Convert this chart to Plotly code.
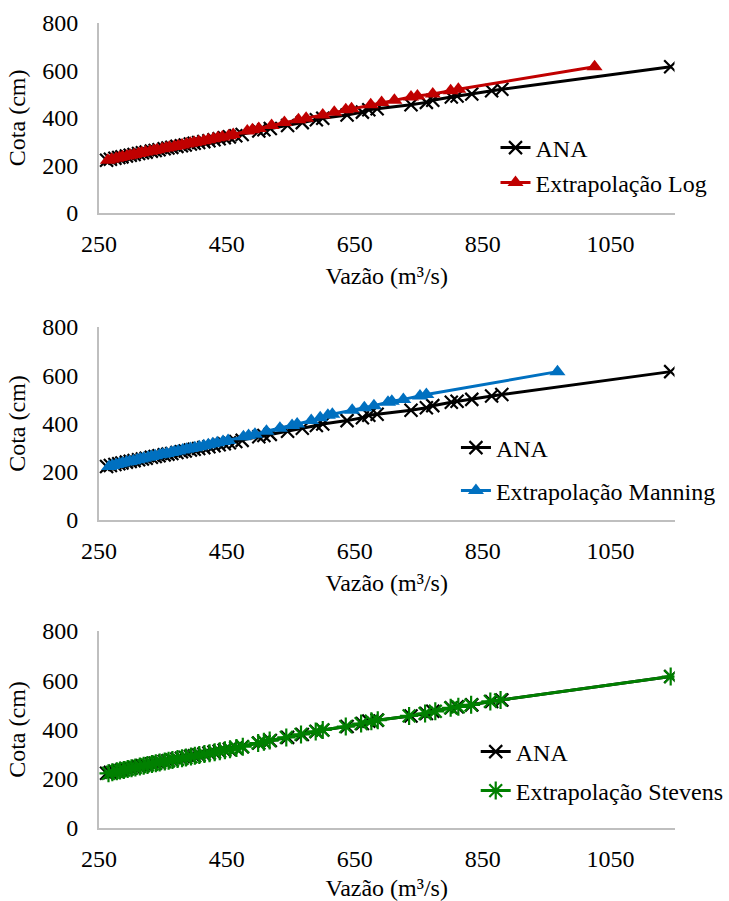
import plotly.graph_objects as go

# Cota (cm) levels shared by all series
cota = [222, 226, 230, 233, 236, 240, 243, 246, 250, 253, 256, 260, 263, 266, 270,
        273, 276, 280, 283, 286, 290, 293, 296, 300, 304, 308, 312, 316, 320, 325,
        330, 345, 350, 355, 368, 380, 392, 398, 412, 424, 434, 438, 455, 465, 474,
        488, 492, 500, 514, 520, 615]

# Vazão (m³/s)
q_ana = [262, 268, 275, 281, 286, 293, 299, 305, 312, 318, 324, 332, 338, 344, 352,
         358, 364, 372, 379, 385, 393, 399, 406, 414, 422, 430, 438, 446, 454, 464,
         474, 500, 508, 518, 545, 568, 590, 600, 638, 662, 672, 685, 738, 762, 772,
         801, 810, 833, 864, 880, 1144]

q_log = [264, 270, 277, 282, 287, 294, 299, 305, 312, 317, 323, 330, 336, 341, 349,
         355, 360, 368, 374, 380, 387, 393, 399, 406, 414, 421, 429, 436, 443, 453,
         460, 482, 490, 500, 520, 540, 562, 574, 600, 618, 636, 645, 675, 692, 712,
         738, 748, 772, 800, 812, 1025]

q_manning = [266, 271, 277, 282, 287, 293, 298, 304, 310, 315, 320, 327, 332, 338, 345,
             350, 356, 363, 368, 374, 381, 387, 393, 400, 407, 414, 421, 428, 435, 444,
             452, 476, 484, 494, 512, 533, 552, 560, 582, 596, 608, 615, 646, 665, 680,
             702, 708, 726, 752, 762, 967]

q_stevens = [265, 271, 278, 283, 289, 295, 301, 307, 314, 320, 326, 333, 339, 345, 353,
             359, 365, 373, 380, 386, 394, 400, 407, 415, 423, 431, 439, 447, 455, 465,
             475, 499, 508, 517, 543, 566, 589, 600, 636, 660, 676, 686, 735, 760, 776,
             800, 812, 832, 862, 878, 1144]

x_ticks = [250, 450, 650, 850, 1050]
y_ticks = [0, 200, 400, 600, 800]

FONT = "Liberation Serif, Times New Roman, serif"
FS = 24
W, H = 729, 901

fig = go.Figure()

domains_y = [
    (1 - 213 / H, 1 - 22.7 / H),
    (1 - 520 / H, 1 - 327 / H),
    (1 - 828 / H, 1 - 631 / H),
]
xdom = [100 / W, 682 / W]

series = [
    ("Extrapolação Log", q_log, "#C00000", "triangle-up", 14),
    ("Extrapolação Manning", q_manning, "#0070C0", "triangle-up", 14),
    ("Extrapolação Stevens", q_stevens, "#008000", "asterisk-open", 15),
]

legend_pos = [
    ((543 - 42) / W, 1 - 148 / H, 1 - 183 / H),
    ((503 - 42) / W, 1 - 448 / H, 1 - 491 / H),
    ((523 - 42) / W, 1 - 752 / H, 1 - 791 / H),
]

for i, (name, qs, color, sym, msize) in enumerate(series):
    ax = "" if i == 0 else str(i + 1)
    leg_a = "legend" if i == 0 else f"legend{2 * i + 1}"
    leg_b = f"legend{2 * i + 2}"
    fig.add_trace(go.Scatter(
        x=q_ana, y=cota, name="ANA", mode="lines+markers",
        line=dict(color="black", width=3),
        marker=dict(symbol="x-thin-open", size=13, line=dict(color="black", width=2.2)),
        xaxis="x" + ax, yaxis="y" + ax, legend=leg_a,
    ))
    if sym == "asterisk-open":
        mk = dict(symbol=sym, size=msize, color=color, line=dict(color=color, width=2.2))
    else:
        mk = dict(symbol=sym, size=msize, color=color)
    fig.add_trace(go.Scatter(
        x=qs, y=cota, name=name, mode="lines+markers",
        line=dict(color=color, width=3), marker=mk,
        xaxis="x" + ax, yaxis="y" + ax, legend=leg_b,
    ))

layout = dict(
    width=W, height=H,
    margin=dict(l=0, r=0, t=0, b=0),
    paper_bgcolor="white", plot_bgcolor="white",
    font=dict(family=FONT, size=FS, color="black"),
    showlegend=True,
)

for i in range(3):
    ax = "" if i == 0 else str(i + 1)
    layout["xaxis" + ax] = dict(
        domain=xdom, anchor="y" + ax, range=[250, 1150],
        tickvals=x_ticks, ticktext=[str(v) for v in x_ticks],
        showgrid=False, zeroline=False, showline=True, linecolor="#BFBFBF", linewidth=1.5,
        ticks="", ticklabelstandoff=8, automargin=False,
        tickfont=dict(size=FS),
        title=dict(text="Vazão (m³/s)", standoff=12, font=dict(size=FS)),
    )
    layout["yaxis" + ax] = dict(
        domain=list(domains_y[i]), anchor="x" + ax, range=[0, 800],
        tickvals=y_ticks, ticktext=[str(v) for v in y_ticks],
        showgrid=False, zeroline=False, showline=True, linecolor="#BFBFBF", linewidth=1.5,
        ticks="", ticklabelstandoff=14, automargin=False,
        tickfont=dict(size=FS),
        title=dict(text="Cota (cm)", standoff=10, font=dict(size=FS)),
    )
    lx, ya, yb = legend_pos[i]
    la = "legend" if i == 0 else f"legend{2 * i + 1}"
    lb = f"legend{2 * i + 2}"
    for key, yy in ((la, ya), (lb, yb)):
        layout[key] = dict(
            x=lx, y=yy, xanchor="left", yanchor="middle",
            bgcolor="rgba(0,0,0,0)", borderwidth=0,
            font=dict(family=FONT, size=FS, color="black"),
        )

fig.update_layout(**layout)
fig.write_html(
    "out.html",
    config={"displayModeBar": False},
    post_script="document.body.style.margin='0';document.body.style.overflow='hidden';",
)
